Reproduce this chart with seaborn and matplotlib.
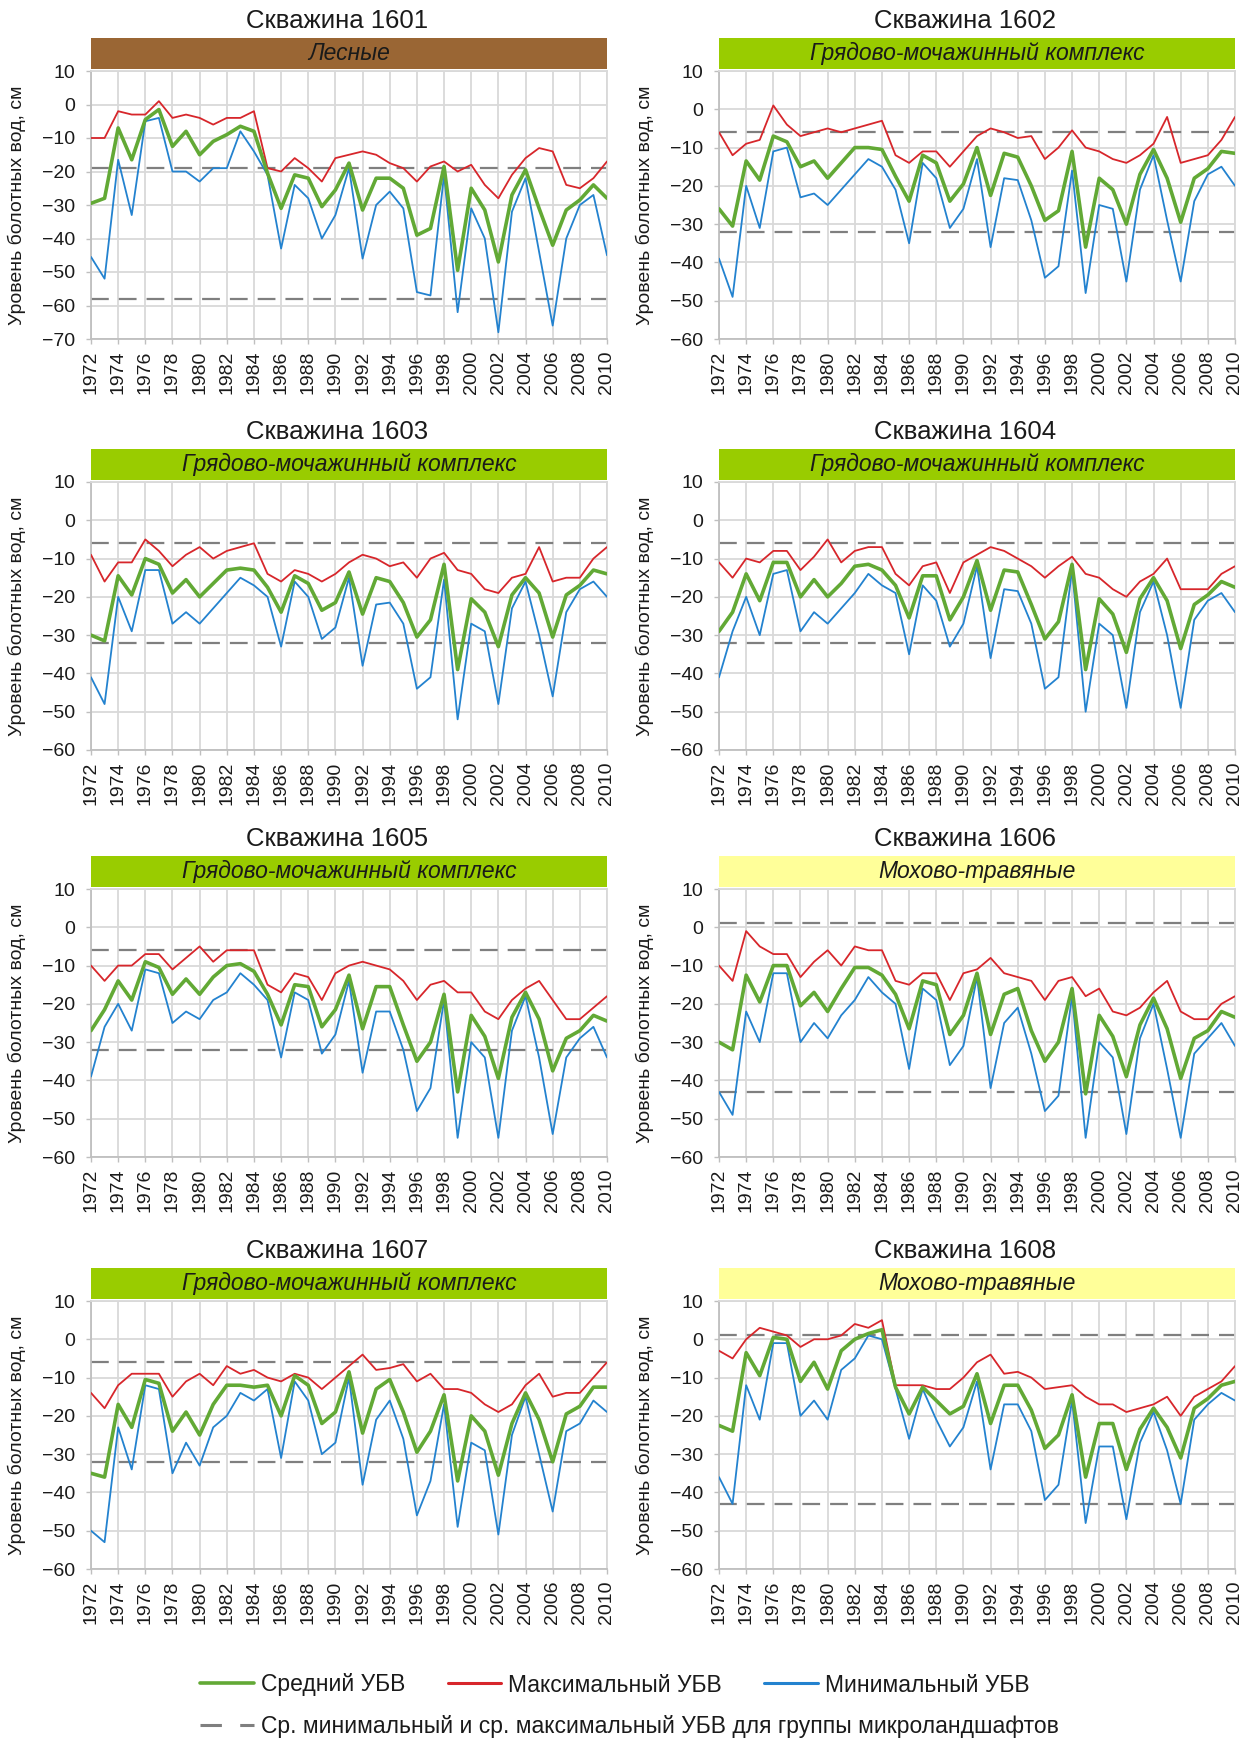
import matplotlib
matplotlib.use("Agg")
import matplotlib.pyplot as plt
from matplotlib.lines import Line2D
import seaborn as sns
import pandas as pd

sns.set_theme(style="white")
plt.rcParams["font.family"] = ["Liberation Sans", "DejaVu Sans"]

years = list(range(1972, 2011))

wells = ["1601", "1602", "1603", "1604", "1605", "1606", "1607", "1608"]
groups = ["Лесные", "Грядово-мочажинный комплекс", "Грядово-мочажинный комплекс",
          "Грядово-мочажинный комплекс", "Грядово-мочажинный комплекс", "Мохово-травяные",
          "Грядово-мочажинный комплекс", "Мохово-травяные"]

# average min / average max water table of each microlandscape group
group_min = {"Лесные": -58, "Грядово-мочажинный комплекс": -32, "Мохово-травяные": -43}
group_max = {"Лесные": -19, "Грядово-мочажинный комплекс": -6, "Мохово-травяные": 1}
group_color = {"Лесные": "#9a6634", "Грядово-мочажинный комплекс": "#99cc00",
               "Мохово-травяные": "#ffff99"}

mean_1601 = [-29.5, -28, -7, -16.5, -4.5, -1.5, -12.5, -8, -15, -11, -9, -6.5, -8, -20.5, -31, -21,
             -22, -30.5, -25.5, -17.5, -31.5, -22, -22, -25, -39, -37, -18.5, -49.5, -25, -31.5,
             -47, -27, -19.5, -31, -42, -31.5, -28.5, -24, -28]
max_1601 = [-10, -10, -2, -3, -3, 1, -4, -3, -4, -6, -4, -4, -2, -19, -20, -16, -19, -23, -16, -15,
            -14, -15, -17.5, -19, -23, -18.5, -17, -20, -18, -24, -28, -21, -16, -13, -14, -24,
            -25, -22, -17]
min_1601 = [-45.5, -52, -16.5, -33, -5, -4, -20, -20, -23, -19, -19, -8, -14, -21, -43, -24, -28,
            -40, -33, -19, -46, -30, -26, -31, -56, -57, -21, -62, -31, -40, -68, -32, -22, -44,
            -66, -40, -30, -27, -45]

mean_1602 = [-26, -30.5, -13.5, -18.5, -7, -8.5, -15, -13.5, -18, -14, -10, -10, -10.5, -17.5, -24,
             -12, -14, -24, -19.5, -10, -22.5, -11.5, -12.5, -20, -29, -26.5, -11, -36, -18, -21,
             -30, -17, -10.5, -18, -29.5, -18, -15.5, -11, -11.5]
max_1602 = [-6, -12, -9, -8, 1, -4, -7, -6, -5, -6, -5, -4, -3, -12, -14, -11, -11, -15, -11, -7,
            -5, -6, -7.5, -7, -13, -10, -5.5, -10, -11, -13, -14, -12, -9, -2, -14, -13, -12, -8, -2]
min_1602 = [-39, -49, -20, -31, -11, -10, -23, -22, -25, -21, -17, -13, -15, -21, -35, -14, -18,
            -31, -26, -13, -36, -18, -18.5, -29, -44, -41, -16, -48, -25, -26, -45, -21, -12, -29,
            -45, -24, -17, -15, -20]

mean_1603 = [-30, -31.5, -14.5, -19.5, -10, -11.5, -19, -15.5, -20, -16.5, -13, -12.5, -13, -17.5,
             -24, -14.5, -16.5, -23.5, -21.5, -13.5, -24.5, -15, -16, -21.5, -30.5, -26, -11.5, -39,
             -20.5, -24, -33, -19.5, -15, -19, -30.5, -19.5, -17, -13, -14]
max_1603 = [-9, -16, -11, -11, -5, -8, -12, -9, -7, -10, -8, -7, -6, -14, -16, -13, -14, -16, -14,
            -11, -9, -10, -12, -11, -15, -10, -8.5, -13, -14, -18, -19, -15, -14, -7, -16, -15, -15,
            -10, -7]
min_1603 = [-41, -48, -20, -29, -13, -13, -27, -24, -27, -23, -19, -15, -17, -20, -33, -16, -20,
            -31, -28, -15, -38, -22, -21.5, -27, -44, -41, -15.5, -52, -27, -29, -48, -23, -16, -30,
            -46, -24, -18, -16, -20]

mean_1604 = [-29, -24, -14, -21, -11, -11, -20, -15.5, -20, -16.5, -12, -11.5, -13, -17, -25.5,
             -14.5, -14.5, -26, -20, -10.5, -23.5, -13, -13.5, -22, -31, -26.5, -11.5, -39, -20.5,
             -24.5, -34.5, -20.5, -15, -21, -33.5, -22, -19.5, -16, -17.5]
max_1604 = [-11, -15, -10, -11, -8, -8, -13, -9.5, -5, -11, -8, -7, -7, -14, -17, -12, -11, -19,
            -11, -9, -7, -8, -10, -12, -15, -12, -9.5, -14, -15, -18, -20, -16, -14, -10, -18, -18,
            -18, -14, -12]
min_1604 = [-41, -29, -20, -30, -14, -13, -29, -24, -27, -23, -19, -14, -17, -19, -35, -17, -21,
            -33, -27, -12, -36, -18, -18.5, -27, -44, -41, -13, -50, -27, -30, -49, -24, -16, -30,
            -49, -26, -21, -19, -24]

mean_1605 = [-27, -21.5, -14, -19, -9, -10.5, -17.5, -13.5, -17.5, -13, -10, -9.5, -11.5, -17.5,
             -25.5, -15, -15.5, -26, -21.5, -12.5, -26.5, -15.5, -15.5, -25.5, -35, -30, -17.5, -43,
             -23, -28.5, -39.5, -23.5, -17, -24, -37.5, -29, -27, -23, -24.5]
max_1605 = [-10, -14, -10, -10, -7, -7, -11, -8, -5, -9, -6, -6, -6, -15, -17, -12, -13, -19, -12,
            -10, -9, -10, -11, -14, -19, -15, -14, -17, -17, -22, -24, -19, -16, -14, -19, -24, -24,
            -21, -18]
min_1605 = [-39, -26, -20, -27, -11, -12, -25, -22, -24, -19, -17, -12, -15, -19, -34, -17, -19,
            -33, -28, -14, -38, -22, -22, -32, -48, -42, -19, -55, -30, -34, -55, -27, -18, -34,
            -54, -34, -29, -26, -34]

mean_1606 = [-30, -32, -12.5, -19.5, -10, -10, -20.5, -17, -22, -16, -10.5, -10.5, -12.5, -17.5,
             -26.5, -14, -15, -28, -23, -12, -28, -17.5, -16, -27, -35, -30, -16, -43.5, -23, -28.5,
             -39, -25.5, -18.5, -26.5, -39.5, -29, -27, -22, -23.5]
max_1606 = [-10, -14, -1, -5, -7, -7, -13, -9, -6, -10, -5, -6, -6, -14, -15, -12, -12, -19, -12,
            -11, -8, -12, -13, -14, -19, -14, -13, -18, -16, -22, -23, -21, -17, -14, -22, -24, -24,
            -20, -18]
min_1606 = [-43, -49, -22, -30, -12, -12, -30, -25, -29, -23, -19, -13, -17, -20, -37, -16, -19,
            -36, -31, -13, -42, -25, -21, -33, -48, -44, -18, -55, -30, -34, -54, -29, -20, -37,
            -55, -33, -29, -25, -31]

mean_1607 = [-35, -36, -17, -23, -10.5, -11.5, -24, -19, -25, -17, -12, -12, -12.5, -12, -20, -9.5,
             -12, -22, -19, -8.5, -24.5, -13, -10.5, -19, -29.5, -24, -14.5, -37, -20, -24, -35.5,
             -22, -14, -21, -32, -19.5, -17.5, -12.5, -12.5]
max_1607 = [-14, -18, -12, -9, -9, -9, -15, -11, -9, -12, -7, -9, -8, -10, -11, -9, -10, -13, -10,
            -7, -4, -8, -7.5, -6.5, -11, -9, -13, -13, -14, -17, -19, -17, -12, -9, -15, -14, -14,
            -10, -6]
min_1607 = [-50, -53, -23, -34, -12, -13, -35, -27, -33, -23, -20, -14, -16, -13, -31, -11, -16,
            -30, -27, -10, -38, -21, -16, -26, -46, -37, -17, -49, -27, -29, -51, -25, -15, -30,
            -45, -24, -22, -16, -19]

mean_1608 = [-22.5, -24, -3.5, -9.5, 0.5, 0, -11, -6, -13, -3, 0, 1.5, 2.5, -12.5, -19.5, -12.5,
             -16, -19.5, -17.5, -9, -22, -12, -12, -18.5, -28.5, -25, -14.5, -36, -22, -22, -34,
             -23.5, -18, -23, -31, -18, -15.5, -12, -11]
max_1608 = [-3, -5, 0, 3, 2, 1, -2, 0, 0, 1, 4, 3, 5, -12, -12, -12, -13, -13, -10, -6, -4, -9,
            -8.5, -10, -13, -12.5, -12, -15, -17, -17, -19, -18, -17, -15, -20, -15, -13, -11, -7]
min_1608 = [-36, -43, -12, -21, -1, -1, -20, -16, -21, -8, -5, 1, 0, -13, -26, -13, -21, -28, -23,
            -11, -34, -17, -17, -24, -42, -38, -16, -48, -28, -28, -47, -27, -19, -29, -43, -21,
            -17, -14, -16]

series = {
    "1601": (mean_1601, max_1601, min_1601),
    "1602": (mean_1602, max_1602, min_1602),
    "1603": (mean_1603, max_1603, min_1603),
    "1604": (mean_1604, max_1604, min_1604),
    "1605": (mean_1605, max_1605, min_1605),
    "1606": (mean_1606, max_1606, min_1606),
    "1607": (mean_1607, max_1607, min_1607),
    "1608": (mean_1608, max_1608, min_1608),
}

C_MEAN, C_MAX, C_MIN, C_GROUP = "#62a935", "#d7262b", "#2382cf", "#7f7f7f"
DASH = (0, (8, 4.5))
TXT = "#1a1a1a"

W, H = 1258, 1739
fig = plt.figure(figsize=(W / 100, H / 100), dpi=100)


def rect(x, y, w, h):
    return [x / W, 1 - (y + h) / H, w / W, h / H]


col_x = [91, 719]
row_top = [71, 482, 889, 1301]
AX_W, AX_H = 516, 268

for i, well in enumerate(wells):
    r, c = divmod(i, 2)
    x0, y0 = col_x[c], row_top[r]
    ax = fig.add_axes(rect(x0, y0, AX_W, AX_H))
    mean_v, max_v, min_v = series[well]
    df = pd.DataFrame({"year": years, "mean": mean_v, "max": max_v, "min": min_v})
    g = groups[i]

    ax.axhline(group_max[g], color=C_GROUP, lw=1.6, ls=DASH, zorder=2)
    ax.axhline(group_min[g], color=C_GROUP, lw=1.6, ls=DASH, zorder=2)
    sns.lineplot(data=df, x="year", y="max", ax=ax, color=C_MAX, lw=1.3, zorder=3)
    sns.lineplot(data=df, x="year", y="min", ax=ax, color=C_MIN, lw=1.3, zorder=3)
    sns.lineplot(data=df, x="year", y="mean", ax=ax, color=C_MEAN, lw=2.6, zorder=4)

    ymin = -70 if well == "1601" else -60
    ax.set_xlim(1972, 2010)
    ax.set_ylim(ymin, 10)
    ax.set_yticks(range(ymin, 11, 10))
    ax.set_xticks(range(1972, 2011, 2))
    ax.set_xticklabels([str(y) for y in range(1972, 2011, 2)], rotation=90)
    ax.grid(True, color="#d9d9d9", lw=1.3)
    ax.set_axisbelow(True)
    ax.tick_params(axis="both", labelsize=14, colors=TXT, length=3.5,
                   color="#bfbfbf", width=1, left=True, bottom=True)
    ax.tick_params(axis="y", pad=8)
    ax.tick_params(axis="x", pad=5)
    for s in ax.spines.values():
        s.set_color("#d9d9d9")
        s.set_linewidth(1.3)
    ax.spines["left"].set_color("#bfbfbf")
    ax.spines["bottom"].set_color("#bfbfbf")
    ax.set_xlabel("")
    ax.set_ylabel("Уровень болотных вод, см", fontsize=14, color=TXT)
    ax.yaxis.set_label_coords(-0.125, 0.5)

    band = fig.add_axes(rect(x0, y0 - 33, AX_W, 31))
    band.set_facecolor(group_color[g])
    band.set_xticks([])
    band.set_yticks([])
    for s in band.spines.values():
        s.set_visible(False)
    band.text(0.5, 0.5, g, ha="center", va="center", fontsize=16.5, style="italic",
              color=TXT, transform=band.transAxes)

    fig.text((x0 + AX_W / 2 - 12) / W, 1 - (y0 - 50) / H, f"Скважина {well}", ha="center",
             va="center", fontsize=18.5, color=TXT)

handles1 = [Line2D([], [], color=C_MEAN, lw=2.6), Line2D([], [], color=C_MAX, lw=2.2),
            Line2D([], [], color=C_MIN, lw=2.2)]
labels1 = ["Средний УБВ", "Максимальный УБВ", "Минимальный УБВ"]
fig.legend(handles1, labels1, loc="center left", bbox_to_anchor=(200 / W, 1 - 1685 / H),
           ncol=3, frameon=False, fontsize=16.5, handlelength=2.35, handletextpad=0.3,
           columnspacing=1.85, borderpad=0, borderaxespad=0, labelcolor=TXT)
handles2 = [Line2D([], [], color=C_GROUP, lw=2.2, ls=(0, (7, 6)))]
labels2 = ["Ср. минимальный и ср. максимальный УБВ для группы микроландшафтов"]
fig.legend(handles2, labels2, loc="center left", bbox_to_anchor=(200 / W, 1 - 1727 / H),
           frameon=False, fontsize=16.5, handlelength=2.35, handletextpad=0.3,
           borderpad=0, borderaxespad=0, labelcolor=TXT)

fig.savefig("out.png", dpi=100, facecolor="white")
